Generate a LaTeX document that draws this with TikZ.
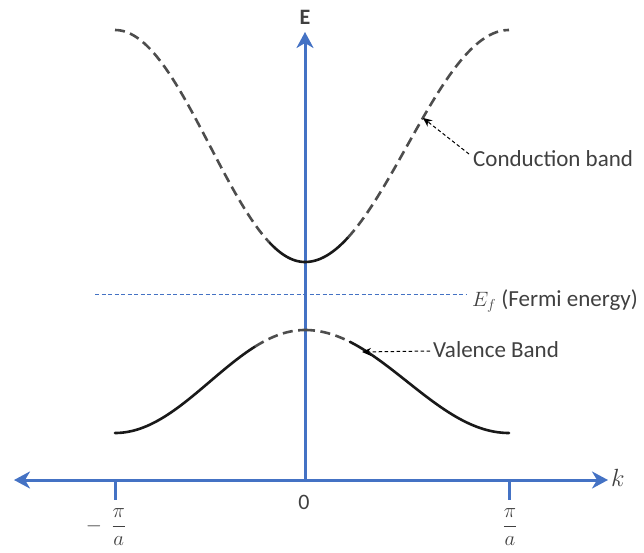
\documentclass[tikz,border=0pt]{standalone}
\usepackage{fontspec}
\setmainfont{Carlito}
\usetikzlibrary{arrows.meta}
\definecolor{axblue}{HTML}{4472C4}
\definecolor{txtgray}{HTML}{404040}
\definecolor{dashgray}{HTML}{4D4D4D}
\tikzset{
  axis/.style={draw=axblue, line width=3pt},
  solidband/.style={draw=black!90, line width=2.6pt, line cap=round},
  dashband/.style={draw=dashgray, line width=2.6pt, dash pattern=on 10pt off 5.5pt},
  fermiline/.style={draw=axblue, line width=1pt, dash pattern=on 4pt off 2.5pt},
  callout/.style={draw=black, line width=1pt, dash pattern=on 3.5pt off 2.5pt, -{Stealth[length=9pt,width=8pt]}},
  lbl/.style={text=txtgray, font=\fontsize{23}{26}\selectfont, inner sep=0pt},
  mathlbl/.style={text=txtgray, font=\fontsize{21}{24}\selectfont, inner sep=0pt}
}
\begin{document}
\begin{tikzpicture}[x=1pt,y=-1pt]
\useasboundingbox (0,0) rectangle (644,553);
% axes
\coordinate (o) at (305,480);
\coordinate (etop) at (305,32);
\coordinate (kl) at (14,480);
\coordinate (kr) at (608,480);
\coordinate (t1a) at (115,480);
\coordinate (t1b) at (115,500);
\coordinate (t2a) at (509,480);
\coordinate (t2b) at (509,500);
\draw[axis, {Stealth[length=16pt,width=17pt,inset=5pt]}-{Stealth[length=16pt,width=17pt,inset=5pt]}] (kl) -- (kr);
\draw[axis, -{Stealth[length=16pt,width=17pt,inset=5pt]}] (o) -- (etop);
\draw[axis] (t1a) -- (t1b);
\draw[axis] (t2a) -- (t2b);
% conduction band
\draw[dashband] plot[domain=115:270, samples=60] (\x, {146+116*cos(0.947368*(\x-305))});
\draw[solidband] plot[domain=270:305, samples=20] (\x, {146+116*cos(0.947368*(\x-305))});
\draw[solidband] plot[domain=305:348, samples=20] (\x, {146+116*cos(0.882353*(\x-305))});
\draw[dashband] plot[domain=348:509, samples=60] (\x, {146+116*cos(0.882353*(\x-305))});
% valence band
\draw[solidband] plot[domain=115:255, samples=60] (\x, {381.5-51.5*cos(0.947368*(\x-305))});
\draw[dashband] plot[domain=255:305, samples=20] (\x, {381.5-51.5*cos(0.947368*(\x-305))});
\draw[dashband] plot[domain=305:350, samples=20] (\x, {381.5-51.5*cos(0.882353*(\x-305))});
\draw[solidband] plot[domain=350:509, samples=60] (\x, {381.5-51.5*cos(0.882353*(\x-305))});
% Fermi line
\coordinate (fl) at (95,294);
\coordinate (fr) at (466,294);
\draw[fermiline] (fl) -- (fr);
% labels
\node[lbl, font=\fontsize{22}{26}\selectfont\bfseries] (E) at (305,17) {E};
\node[mathlbl, anchor=west, font=\fontsize{23}{26}\selectfont] (k) at (611,478) {$k$};
\node[lbl, anchor=base, font=\fontsize{22}{26}\selectfont] (zero) at (304,509) {0};
\node[mathlbl] (mpa) at (106,527) {$\displaystyle -\;\,\frac{\pi}{a}$};
\node[mathlbl] (pa) at (510,527) {$\displaystyle \frac{\pi}{a}$};
\node[lbl, anchor=base west] (ef) at (472,306) {{\fontsize{21}{24}\selectfont$E_f$} (Fermi energy)};
\node[lbl, anchor=base west] (cb) at (473,167) {Conduction band};
\node[lbl, anchor=base west] (vb) at (433,357) {Valence Band};
\coordinate (cbtip) at (423,118);
\coordinate (vbtip) at (362,352);
\draw[callout] ([xshift=-4pt,yshift=13pt]cb.base west) -- (cbtip);
\draw[callout] ([xshift=-3pt,yshift=6pt]vb.base west) -- (vbtip);
\end{tikzpicture}
\end{document}
